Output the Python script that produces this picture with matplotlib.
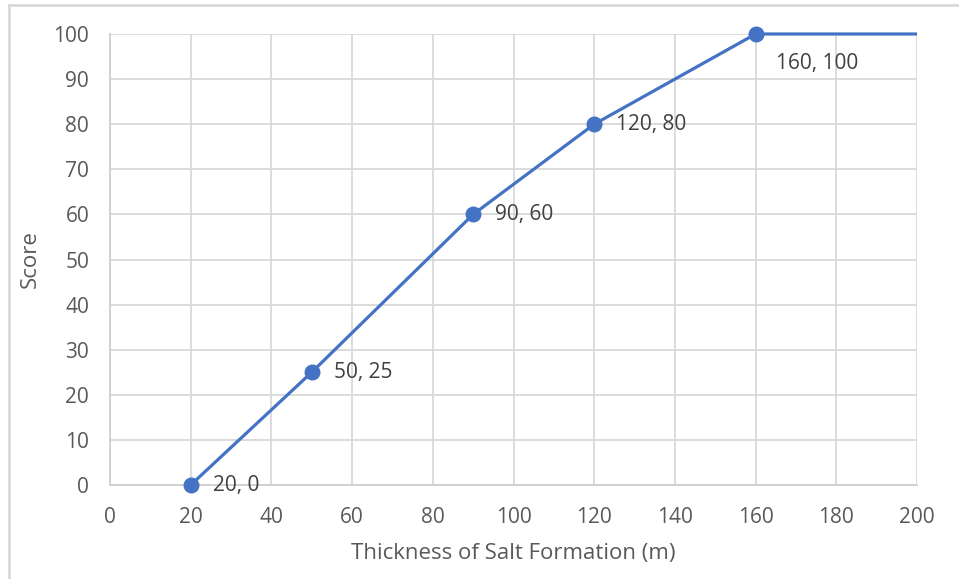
import matplotlib
matplotlib.use("Agg")
import matplotlib.pyplot as plt
from matplotlib.lines import Line2D

# Scoring curve for salt formation thickness
thickness = [20, 50, 90, 120, 160, 200]
score = [0, 25, 60, 80, 100, 100]
labeled = [True, True, True, True, True, False]
label_offsets = [(16, 0), (16, 0), (16, 0), (16, 0), (15, -21), (0, 0)]

x_ticks = list(range(0, 201, 20))
y_ticks = list(range(0, 101, 10))

plt.rcParams['font.family'] = ['Open Sans', 'DejaVu Sans']
text_color = '#595959'
label_color = '#404040'
grid_color = '#d9d9d9'
line_color = '#4472C4'

fig = plt.figure(figsize=(9.59, 5.79), dpi=100)
ax = fig.add_axes([110 / 959, 1 - 485 / 579, 807 / 959, 451 / 579])

ax.plot(thickness, score, color=line_color, lw=2.3, solid_capstyle='butt',
        zorder=3, clip_on=False)
mx = [x for x, k in zip(thickness, labeled) if k]
my = [y for y, k in zip(score, labeled) if k]
ax.plot(mx, my, 'o', color=line_color, markersize=10.5, zorder=4, clip_on=False)

for x, y, k, (dx, dy) in zip(thickness, score, labeled, label_offsets):
    if not k:
        continue
    ax.annotate(f"{x}, {y}", (x, y), xytext=(dx, dy), textcoords='offset points',
                ha='left', va='center', fontsize=15, color=label_color, zorder=5,
                annotation_clip=False)

ax.set_xlim(0, 200)
ax.set_ylim(0, 100)
ax.set_xticks(x_ticks)
ax.set_yticks(y_ticks)
ax.grid(True, color=grid_color, lw=1.3)
ax.set_axisbelow(True)

for side in ['top', 'right']:
    ax.spines[side].set_visible(False)
for side in ['left', 'bottom']:
    ax.spines[side].set_color('#cfcfcf')
    ax.spines[side].set_linewidth(1.3)
    ax.spines[side].set_zorder(1)

ax.tick_params(axis='both', length=0, labelsize=15, colors=text_color)
ax.tick_params(axis='x', pad=16)
ax.tick_params(axis='y', pad=15)

ax.set_xlabel('Thickness of Salt Formation (m)', fontsize=16, color=text_color, labelpad=11)
ax.set_ylabel('Score', fontsize=16, color=text_color, labelpad=9)

# Chart frame (left and top edges)
fig.add_artist(Line2D([9 / 959, 9 / 959], [0, 1 - 5 / 579], transform=fig.transFigure,
                      color='#d9d9d9', lw=2))
fig.add_artist(Line2D([9 / 959, 1], [1 - 5 / 579, 1 - 5 / 579], transform=fig.transFigure,
                      color='#d9d9d9', lw=2))

fig.savefig('out.png', dpi=100)
